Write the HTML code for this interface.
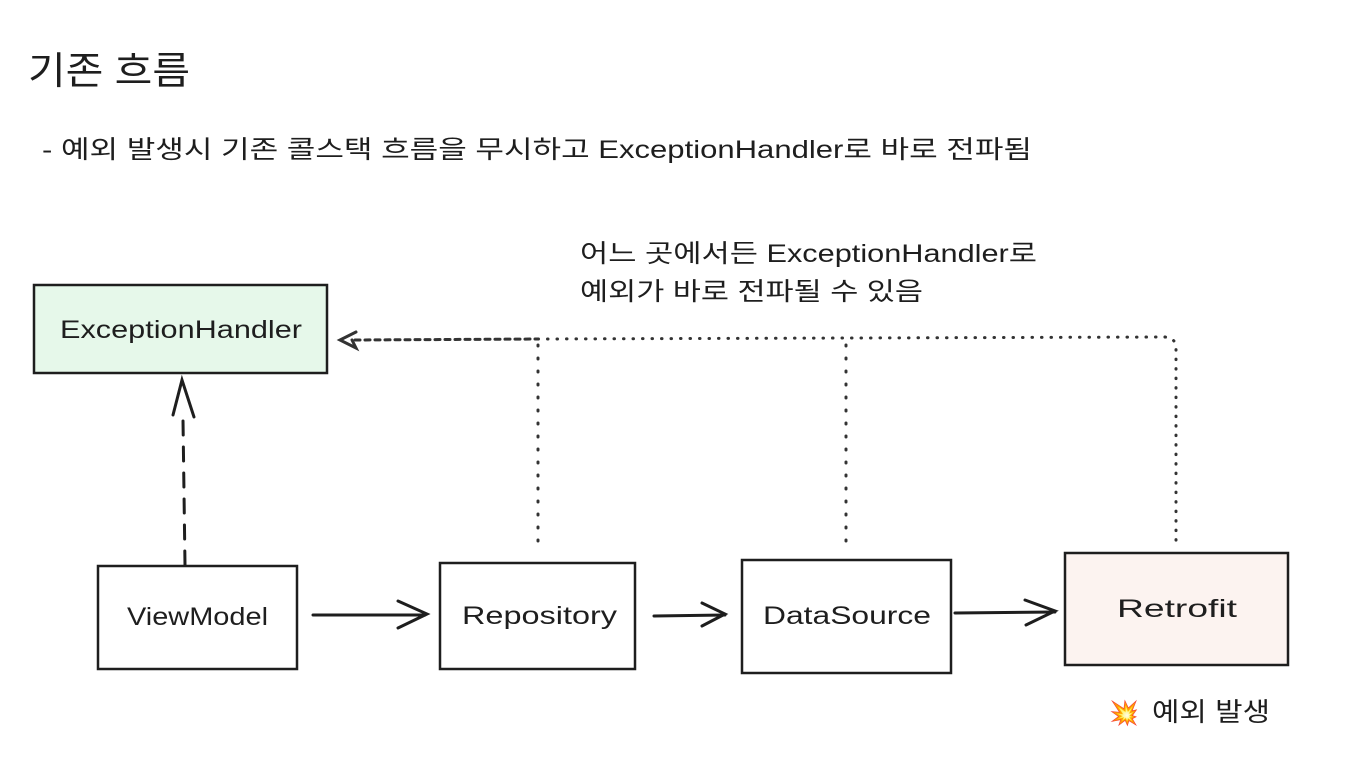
<!DOCTYPE html>
<html><head><meta charset="utf-8"><style>
html,body{margin:0;padding:0;background:#fff;}
body{width:1354px;height:772px;overflow:hidden;}
svg text{font-family:"Liberation Sans","Noto Sans CJK KR",sans-serif;fill:#1e1e1e;}
</style></head><body>
<svg width="1354" height="772" viewBox="0 0 1354 772" xmlns="http://www.w3.org/2000/svg">
<text x="28" y="84" font-size="38" textLength="162" lengthAdjust="spacingAndGlyphs">기존 흐름</text>
<text x="42" y="158" font-size="25" textLength="990" lengthAdjust="spacingAndGlyphs">- 예외 발생시 기존 콜스택 흐름을 무시하고 ExceptionHandler로 바로 전파됨</text>
<text x="580" y="262" font-size="25" textLength="457" lengthAdjust="spacingAndGlyphs">어느 곳에서든 ExceptionHandler로</text>
<text x="580" y="300" font-size="25" textLength="343" lengthAdjust="spacingAndGlyphs">예외가 바로 전파될 수 있음</text>

<g stroke="#1e1e1e" stroke-width="2.5" fill="none">
<rect x="34" y="285" width="293" height="88" fill="#e6f8ea"/>
<rect x="98" y="566" width="199" height="103" fill="#fff"/>
<rect x="440" y="563" width="195" height="106" fill="#fff"/>
<rect x="742" y="560" width="209" height="113" fill="#fff"/>
<rect x="1065" y="553" width="223" height="112" fill="#fcf3f0"/>
</g>
<g stroke="#1e1e1e" stroke-width="3" fill="none" stroke-linecap="round">
<line x1="185" y1="565" x2="183" y2="420" stroke-dasharray="14 12"/>
<polyline points="173,415 182,380 194,417"/>
<line x1="313" y1="615" x2="425" y2="615"/>
<polyline points="398,601 427,614 398,628"/>
<line x1="654" y1="616" x2="725" y2="615"/>
<polyline points="702,603 725,614 702,626"/>
<line x1="955" y1="613" x2="1055" y2="612"/>
<polyline points="1025,600 1055,611 1026,625"/>
</g>
<g stroke="#333" stroke-width="3" fill="none" stroke-linecap="round">
<line x1="355" y1="340" x2="538" y2="339" stroke-dasharray="5 5"/>
<polyline points="356,332 340,340 356,348 352,340"/>
<line x1="538" y1="339" x2="1165" y2="337" stroke-dasharray="0.5 9"/>
<path d="M1165 337 Q1176 338 1176 348 L1176 545" stroke-dasharray="0.5 9"/>
<line x1="538" y1="345" x2="538" y2="553" stroke-dasharray="1 12"/>
<line x1="846" y1="345" x2="846" y2="553" stroke-dasharray="1 12"/>
</g>
<text x="60" y="338" font-size="25" textLength="242" lengthAdjust="spacingAndGlyphs">ExceptionHandler</text>
<text x="127" y="625" font-size="25" textLength="141" lengthAdjust="spacingAndGlyphs">ViewModel</text>
<text x="462" y="624" font-size="25" textLength="155" lengthAdjust="spacingAndGlyphs">Repository</text>
<text x="763" y="624" font-size="25" textLength="168" lengthAdjust="spacingAndGlyphs">DataSource</text>
<text x="1117" y="617" font-size="25" textLength="120" lengthAdjust="spacingAndGlyphs">Retrofit</text>
<text x="1109" y="721" font-size="24">💥</text>
<text x="1152" y="721" font-size="26" textLength="118" lengthAdjust="spacingAndGlyphs">예외 발생</text>
</svg>
</body></html>
